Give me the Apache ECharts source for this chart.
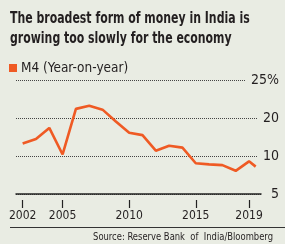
<!DOCTYPE html>
<html>
<head>
<meta charset="utf-8">
<script src="https://cdn.jsdelivr.net/npm/echarts@6/dist/echarts.min.js"></script>
<style>
  html, body { margin: 0; padding: 0; background: #e9ece3; }
  #chart { width: 285px; height: 244px; }
</style>
</head>
<body>
<div id="chart"></div>
<script>
// M4 money growth, year-on-year (%)
const years = [2002, 2003, 2004, 2005, 2006, 2007, 2008, 2009, 2010, 2011, 2012, 2013, 2014, 2015, 2016, 2017, 2018, 2019, 2019.5];
const m4Growth = [13.3, 14.5, 17.4, 10.4, 22.4, 23.2, 22.2, 19.1, 16.1, 15.5, 11.4, 12.7, 12.2, 8.1, 7.8, 7.6, 6.1, 8.6, 7.2];
const xTickYears = [2002, 2005, 2010, 2015, 2019];
const yTickLabels = ["5", "10", "20", "25%"];

const FONT = '"Liberation Sans Narrow", "DejaVu Sans Condensed", sans-serif';
const BG = "#e9ece3";
const INK = "#231f20";

const chart = echarts.init(document.getElementById("chart"));
chart.setOption({
    animation: false,
    backgroundColor: BG,
    legend: {
        data: ["M4 (Year-on-year)"],
        left: 4,
        top: 56,
        icon: "rect",
        itemWidth: 8,
        itemHeight: 8,
        itemGap: 5,
        textStyle: { fontFamily: FONT, fontSize: 13.5, color: INK, padding: [0, 0, 0, -1] },
    },
    grid: { left: 16, right: 24, top: 80, bottom: 50 },
    xAxis: [
        {
            type: "value",
            min: 2001.5,
            max: 2019.9,
            axisLine: { show: true, lineStyle: { color: "#222", width: 1.5 } },
            axisTick: { show: false },
            axisLabel: { show: false },
            splitLine: { show: false },
        },
        {
            type: "value",
            min: 2001.5,
            max: 2019.9,
            position: "bottom",
            offset: 6,
            axisLine: { show: false },
            axisTick: { show: true, length: 8, customValues: xTickYears, lineStyle: { color: "#222", width: 1.2 } },
            axisLabel: {
                customValues: xTickYears,
                margin: 10,
                color: INK,
                fontFamily: FONT,
                fontSize: 12,
                formatter: function (v) { return String(v); },
            },
            splitLine: { show: false },
        },
    ],
    yAxis: {
        type: "value",
        position: "right",
        min: 0,
        max: 30,
        interval: 10,
        axisLine: { show: false },
        axisTick: { show: false },
        axisLabel: {
            align: "right",
            margin: 18,
            color: INK,
            fontFamily: FONT,
            fontSize: 14,
            backgroundColor: BG,
            padding: [0, 0, 0, 6],
            formatter: function (v) { return yTickLabels[Math.round(v / 10)]; },
        },
        splitLine: { lineStyle: { color: "#444", type: "dotted", width: 1 } },
    },
    series: [
        {
            name: "M4 (Year-on-year)",
            type: "line",
            xAxisIndex: 0,
            data: years.map(function (y, i) { return [y, m4Growth[i]]; }),
            showSymbol: false,
            itemStyle: { color: "#ef5a24" },
            lineStyle: { color: "#ef5a24", width: 2.6 },
        },
    ],
    graphic: [
        {
            type: "text",
            x: 10,
            y: 9,
            scaleX: 0.76,
            style: {
                text: "The broadest form of money in India is\ngrowing too slowly for the economy",
                x: 0,
                y: 0,
                verticalAlign: "top",
                fill: INK,
                font: "bold 16px " + FONT,
                lineHeight: 20,
            },
        },
        {
            type: "line",
            shape: { x1: 10, y1: 227.5, x2: 285, y2: 227.5 },
            style: { stroke: "#333", lineWidth: 1 },
        },
        {
            type: "text",
            x: 273,
            y: 237,
            scaleX: 0.85,
            style: {
                text: "Source: Reserve Bank  of  India/Bloomberg",
                x: 0,
                y: 0,
                align: "right",
                verticalAlign: "middle",
                fill: INK,
                font: "11px " + FONT,
            },
        },
    ],
});

window.addEventListener("resize", function () {
    chart.resize();
});
</script>
</body>
</html>
